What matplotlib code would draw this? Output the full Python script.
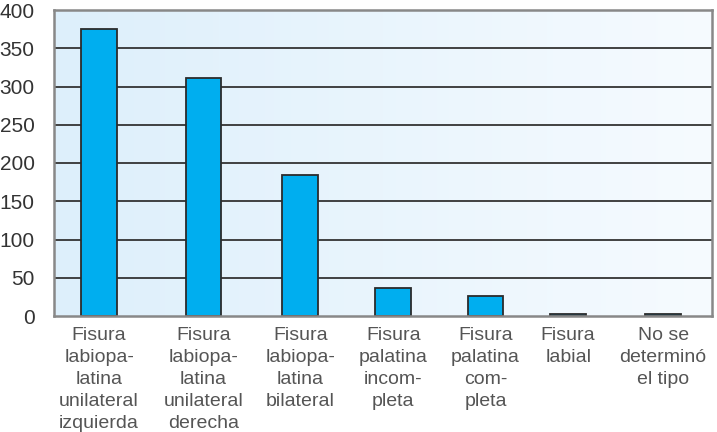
import numpy as np
import matplotlib
matplotlib.use('Agg')
import matplotlib.pyplot as plt
from matplotlib.colors import LinearSegmentedColormap

categories = [
    'Fisura\nlabiopa-\nlatina\nunilateral\nizquierda',
    'Fisura\nlabiopa-\nlatina\nunilateral\nderecha',
    'Fisura\nlabiopa-\nlatina\nbilateral',
    'Fisura\npalatina\nincom-\npleta',
    'Fisura\npalatina\ncom-\npleta',
    'Fisura\nlabial',
    'No se\ndeterminó\nel tipo',
]
values = [375, 311, 184, 36, 26, 2, 3]
y_ticks = [0, 50, 100, 150, 200, 250, 300, 350, 400]

plt.rcParams['font.family'] = ['Liberation Sans', 'DejaVu Sans']

fig = plt.figure(figsize=(7.17, 4.32), dpi=100)
ax = fig.add_axes([54 / 717, 116 / 432, 658 / 717, 306 / 432])

n = len(categories)
# slot centres are not quite evenly spaced in the original layout
x = np.arange(n) + np.array([-0.02, 0.09, 0.12, 0.11, 0.09, -0.03, -0.02])
ax.set_xlim(-0.5, n - 0.5)
ax.set_ylim(0, 400)

# light blue gradient background
grad = np.linspace(0, 1, 256).reshape(1, -1)
cmap = LinearSegmentedColormap.from_list('bg', ['#ddeffb', '#f6fbff'])
ax.imshow(grad, aspect='auto', cmap=cmap, extent=(-0.5, n - 0.5, 0, 400), zorder=0)

for t in y_ticks[1:-1]:
    ax.axhline(t, color='#333333', linewidth=1.3, zorder=1)

ax.bar(x, values, width=0.38, color='#00aeef', edgecolor='#2b2b2b', linewidth=1.3, zorder=2)

ax.set_xticks(x)
ax.set_xticklabels(categories, fontsize=14, color='#555555', linespacing=1.38)
ax.set_yticks(y_ticks)
ax.set_yticklabels([str(t) for t in y_ticks], fontsize=15, color='#333333')
ax.tick_params(axis='x', length=0, pad=8)
ax.tick_params(axis='y', length=0, pad=14)

for s in ax.spines.values():
    s.set_color('#888888')
    s.set_linewidth(1.8)

fig.savefig('out.png', dpi=100)
